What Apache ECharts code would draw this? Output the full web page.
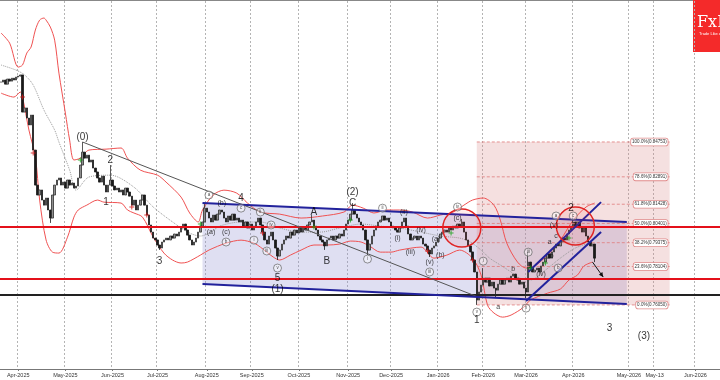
<!DOCTYPE html>
<html>
<head>
<meta charset="utf-8">
<title>USDCHF wave count</title>
<script src="https://cdn.jsdelivr.net/npm/echarts@6/dist/echarts.min.js"></script>
<style>
html, body { margin: 0; padding: 0; background: #fff; }
#chart { width: 720px; height: 380px; }
</style>
</head>
<body>
<div id="chart"></div>
<script>
// daily closes, one per trading day starting 2025-03-20
const closes = [
  0.8795, 0.8806, 0.8784, 0.8811, 0.8800, 0.8816, 0.8806, 0.8822, 0.8827, 0.8833,
  0.8635, 0.8657, 0.8603, 0.8566, 0.8619, 0.8432, 0.8245, 0.8192, 0.8219, 0.8165,
  0.8138, 0.8176, 0.8112, 0.8069, 0.8192, 0.8245, 0.8272, 0.8283, 0.8245, 0.8261,
  0.8229, 0.8272, 0.8245, 0.8256, 0.8229, 0.8240, 0.8283, 0.8352, 0.8421, 0.8389,
  0.8405, 0.8368, 0.8379, 0.8336, 0.8315, 0.8283, 0.8261, 0.8293, 0.8245, 0.8208,
  0.8245, 0.8272, 0.8240, 0.8219, 0.8229, 0.8208, 0.8219, 0.8192, 0.8229, 0.8208,
  0.8186, 0.8138, 0.8165, 0.8112, 0.8138, 0.8165, 0.8192, 0.8138, 0.8085, 0.8032,
  0.7994, 0.7962, 0.7952, 0.7925, 0.7909, 0.7941, 0.7952, 0.7962, 0.7952, 0.7973,
  0.7962, 0.7984, 0.7973, 0.7994, 0.8016, 0.8037, 0.8005, 0.7978, 0.7952, 0.7925,
  0.7941, 0.7962, 0.7994, 0.8026, 0.8048, 0.8122, 0.8101, 0.8069, 0.8048, 0.8085,
  0.8058, 0.8090, 0.8112, 0.8101, 0.8069, 0.8048, 0.8080, 0.8058, 0.8090, 0.8058,
  0.8069, 0.8048, 0.8058, 0.8026, 0.8048, 0.8016, 0.8037, 0.8005, 0.8026, 0.8048,
  0.8069, 0.8032, 0.7994, 0.7952, 0.7930, 0.7973, 0.7994, 0.7952, 0.7909, 0.7866,
  0.7898, 0.7930, 0.7952, 0.7973, 0.7962, 0.7994, 0.7978, 0.8005, 0.7989, 0.8016,
  0.7994, 0.8016, 0.8005, 0.8032, 0.8048, 0.8058, 0.8026, 0.8005, 0.7973, 0.7952,
  0.7941, 0.7920, 0.7952, 0.7962, 0.7973, 0.7952, 0.7973, 0.7962, 0.7984, 0.7973,
  0.8005, 0.8037, 0.8058, 0.8090, 0.8112, 0.8090, 0.8069, 0.8048, 0.8032, 0.8005,
  0.7952, 0.7898, 0.7930, 0.7973, 0.8005, 0.8026, 0.8048, 0.8058, 0.8080, 0.8058,
  0.8069, 0.8048, 0.8026, 0.8016, 0.8005, 0.7994, 0.8016, 0.8048, 0.8069, 0.8026,
  0.7984, 0.7952, 0.7962, 0.7973, 0.7952, 0.7973, 0.7962, 0.7930, 0.7920, 0.7898,
  0.7877, 0.7909, 0.7920, 0.7941, 0.7962, 0.7984, 0.7994, 0.8005, 0.7994, 0.8016,
  0.8005, 0.8026, 0.8016, 0.8037, 0.8026, 0.8048, 0.7994, 0.7952, 0.7920, 0.7888,
  0.7845, 0.7781, 0.7631, 0.7674, 0.7711, 0.7748, 0.7727, 0.7748, 0.7706, 0.7727,
  0.7695, 0.7684, 0.7716, 0.7738, 0.7716, 0.7738, 0.7748, 0.7727, 0.7759, 0.7770,
  0.7748, 0.7738, 0.7716, 0.7727, 0.7695, 0.7674, 0.7834, 0.7802, 0.7781, 0.7791,
  0.7802, 0.7781, 0.7813, 0.7834, 0.7855, 0.7877, 0.7855, 0.7888, 0.7909, 0.7930,
  0.7920, 0.7941, 0.7962, 0.7952, 0.7984, 0.8005, 0.8026, 0.8048, 0.8026, 0.8048,
  0.8016, 0.7994, 0.8016, 0.7973, 0.7941, 0.7920, 0.7930, 0.7855
];
// wick extremes that go beyond the bodies
const wicks = [
  ['2025-04-22', 0.8043], ['2025-05-13', 0.8475], ['2025-05-30', 0.8352],
  ['2025-07-02', 0.7899], ['2025-07-31', 0.8149], ['2025-09-17', 0.7845],
  ['2025-10-09', 0.8085], ['2025-10-17', 0.7899], ['2025-11-05', 0.8149],
  ['2025-11-14', 0.7872], ['2025-12-26', 0.7861], ['2026-01-19', 0.8064],
  ['2026-01-28', 0.7605], ['2026-02-02', 0.7802], ['2026-02-10', 0.7642],
  ['2026-03-02', 0.7642], ['2026-03-03', 0.7888], ['2026-04-01', 0.8069],
  ['2026-04-15', 0.7834]
];
const holidays = ['2025-12-25', '2026-01-01'];

// bollinger bands and the dotted average
const upperBand = [
  ['2025-03-20', 0.9057], ['2025-03-26', 0.9003], ['2025-04-01', 0.8875], ['2025-04-03', 0.8886],
  ['2025-04-07', 0.8950], ['2025-04-09', 0.8982], ['2025-04-11', 0.9073], ['2025-04-15', 0.9126],
  ['2025-04-17', 0.9137], ['2025-04-18', 0.9126], ['2025-04-22', 0.9089], ['2025-04-24', 0.9019],
  ['2025-04-28', 0.8843], ['2025-05-01', 0.8630], ['2025-05-05', 0.8485], ['2025-05-07', 0.8379],
  ['2025-05-12', 0.8389], ['2025-05-16', 0.8432], ['2025-05-28', 0.8437], ['2025-06-06', 0.8443],
  ['2025-06-11', 0.8389], ['2025-06-19', 0.8325], ['2025-07-01', 0.8298], ['2025-07-07', 0.8261],
  ['2025-07-16', 0.8181], ['2025-07-22', 0.8096], ['2025-07-28', 0.8048], ['2025-07-30', 0.8112],
  ['2025-08-06', 0.8192], ['2025-08-13', 0.8218], ['2025-08-21', 0.8202], ['2025-08-28', 0.8149],
  ['2025-09-05', 0.8101], ['2025-09-18', 0.8090], ['2025-10-02', 0.8069], ['2025-10-16', 0.8080],
  ['2025-10-30', 0.8101], ['2025-11-05', 0.8138], ['2025-11-12', 0.8122], ['2025-11-19', 0.8096],
  ['2025-11-27', 0.8112], ['2025-12-05', 0.8112], ['2025-12-15', 0.8101], ['2025-12-24', 0.8069],
  ['2026-01-05', 0.8085], ['2026-01-13', 0.8101], ['2026-01-20', 0.8138], ['2026-01-26', 0.8165],
  ['2026-02-02', 0.8176], ['2026-02-09', 0.8138], ['2026-02-12', 0.8058], ['2026-02-17', 0.7935],
  ['2026-02-24', 0.7834], ['2026-03-02', 0.7802], ['2026-03-06', 0.7813], ['2026-03-16', 0.7871],
  ['2026-03-24', 0.7951], ['2026-04-01', 0.8058], ['2026-04-09', 0.8128], ['2026-04-15', 0.8149]
];
const lowerBand = [
  ['2025-03-20', 0.8736], ['2025-03-28', 0.8715], ['2025-04-02', 0.8742], ['2025-04-03', 0.8715],
  ['2025-04-08', 0.8539], ['2025-04-11', 0.8395], ['2025-04-15', 0.8165], ['2025-04-18', 0.7952],
  ['2025-04-23', 0.7887], ['2025-04-28', 0.7882], ['2025-05-02', 0.7967], ['2025-05-07', 0.8074],
  ['2025-05-09', 0.8112], ['2025-05-15', 0.8138], ['2025-05-22', 0.8165], ['2025-05-27', 0.8154],
  ['2025-06-06', 0.8149], ['2025-06-11', 0.8112], ['2025-06-16', 0.8096], ['2025-06-20', 0.8074],
  ['2025-06-27', 0.7967], ['2025-07-04', 0.7882], ['2025-07-10', 0.7845], ['2025-07-16', 0.7829],
  ['2025-07-21', 0.7834], ['2025-07-29', 0.7871], ['2025-08-04', 0.7898], ['2025-08-14', 0.7935],
  ['2025-08-25', 0.7951], ['2025-09-02', 0.7935], ['2025-09-05', 0.7914], ['2025-09-15', 0.7861],
  ['2025-09-18', 0.7845], ['2025-09-25', 0.7871], ['2025-10-02', 0.7898], ['2025-10-10', 0.7925],
  ['2025-10-20', 0.7925], ['2025-10-28', 0.7930], ['2025-11-04', 0.7946], ['2025-11-11', 0.7941],
  ['2025-11-17', 0.7919], ['2025-11-24', 0.7887], ['2025-12-01', 0.7887], ['2025-12-05', 0.7898],
  ['2025-12-19', 0.7914], ['2025-12-30', 0.7855], ['2026-01-08', 0.7871], ['2026-01-16', 0.7898],
  ['2026-01-26', 0.7855], ['2026-01-30', 0.7765], ['2026-02-04', 0.7604], ['2026-02-09', 0.7562],
  ['2026-02-13', 0.7540], ['2026-02-19', 0.7551], ['2026-02-27', 0.7594], ['2026-03-04', 0.7631],
  ['2026-03-16', 0.7668], ['2026-03-24', 0.7690], ['2026-03-30', 0.7738], ['2026-04-03', 0.7765],
  ['2026-04-08', 0.7813], ['2026-04-14', 0.7834]
];
const midLine = [
  ['2025-03-20', 0.8886], ['2025-03-31', 0.8859], ['2025-04-04', 0.8833], ['2025-04-10', 0.8779],
  ['2025-04-17', 0.8646], ['2025-04-24', 0.8539], ['2025-04-28', 0.8475], ['2025-05-05', 0.8325],
  ['2025-05-08', 0.8218], ['2025-05-16', 0.8288], ['2025-05-30', 0.8298], ['2025-06-16', 0.8234],
  ['2025-06-27', 0.8128], ['2025-07-14', 0.8032], ['2025-07-22', 0.7989], ['2025-07-29', 0.7973],
  ['2025-08-05', 0.7994], ['2025-08-11', 0.8026], ['2025-08-25', 0.8048], ['2025-09-05', 0.8048],
  ['2025-09-18', 0.8016], ['2025-10-02', 0.7994], ['2025-10-15', 0.7994], ['2025-10-28', 0.8016],
  ['2025-11-11', 0.8037], ['2025-11-24', 0.8026], ['2025-12-05', 0.8016], ['2025-12-19', 0.7994],
  ['2026-01-05', 0.7973], ['2026-01-16', 0.7962], ['2026-01-23', 0.7941], ['2026-01-30', 0.7898],
  ['2026-02-05', 0.7855], ['2026-02-12', 0.7818], ['2026-02-19', 0.7781], ['2026-02-25', 0.7749],
  ['2026-03-04', 0.7738], ['2026-03-13', 0.7791], ['2026-03-24', 0.7855], ['2026-04-02', 0.7909],
  ['2026-04-13', 0.7936]
];

// axis ticks
const tickDates = ['2025-04-01', '2025-05-01', '2025-06-02', '2025-07-01', '2025-08-01', '2025-09-01',
  '2025-10-01', '2025-11-03', '2025-12-01', '2026-01-02', '2026-02-02', '2026-03-02', '2026-04-01',
  '2026-05-01', '2026-05-13', '2026-06-01'];
const tickLabels = ['Apr-2025', 'May-2025', 'Jun-2025', 'Jul-2025', 'Aug-2025', 'Sep-2025',
  'Oct-2025', 'Nov-2025', 'Dec-2025', 'Jan-2026', 'Feb-2026', 'Mar-2026', 'Apr-2026',
  'May-2026', 'May-13', 'Jun-2026'];

// drawing objects
const fibLevels = [100, 78.6, 61.8, 50, 38.2, 23.6, 0];
const fibHigh = 0.84753, fibLow = 0.76050;
const fibSpan = ['2026-01-28', '2026-05-20'];
const redLevels = [0.80215, 0.77438];
const blackLevel = 0.76584;
const channelTop = [['2025-07-30', 0.8149], ['2026-04-30', 0.8048]];
const channelBottom = [['2025-07-30', 0.7717], ['2026-04-30', 0.7610]];
const riseTop = [['2026-03-03', 0.7781], ['2026-04-18', 0.8154]];
const riseBottom = [['2026-03-02', 0.7626], ['2026-04-18', 0.7994]];
const trendLine = [['2025-05-13', 0.8475], ['2026-01-28', 0.7650]];
const circles = [['2026-01-19', 0.8016], ['2026-04-02', 0.8026]];
const arrow = [['2026-04-14', 0.7834], ['2026-04-19', 0.7754]];

// wave labels
const waveLabels = [
  ['2025-05-13', 0.8501, '(0)'], ['2025-05-30', 0.8379, '2'], ['2025-05-28', 0.8154, '1'],
  ['2025-07-02', 0.7839, '3'], ['2025-08-25', 0.8176, '4'], ['2025-11-05', 0.8208, '(2)'],
  ['2025-11-05', 0.8149, 'C'], ['2025-10-10', 0.8101, 'A'], ['2025-10-20', 0.7839, 'B'],
  ['2025-09-17', 0.7749, '5'], ['2025-09-17', 0.7690, '(1)'], ['2026-01-28', 0.7524, '1'],
  ['2026-03-31', 0.8122, '2'], ['2026-04-22', 0.7482, '3'], ['2026-05-08', 0.7439, '(3)']
];
const smallLabels = [
  ['2026-02-11', 0.7594, 'a'], ['2026-02-20', 0.7797, 'b'], ['2026-03-17', 0.7941, 'a'],
  ['2026-03-18', 0.7866, 'b'], ['2026-03-20', 0.7973, 'c'],
  ['2025-08-05', 0.7994, '(a)'], ['2025-08-14', 0.7994, '(c)'], ['2025-08-12', 0.8149, '(b)'],
  ['2025-12-04', 0.7962, '(i)'], ['2025-12-09', 0.8101, '(ii)'], ['2025-12-12', 0.7887, '(iii)'],
  ['2025-12-19', 0.8005, '(iv)'], ['2025-12-26', 0.7834, '(v)'], ['2025-12-31', 0.7957, '(a)'],
  ['2026-01-05', 0.7871, '(b)'], ['2026-01-15', 0.8069, '(c)'], ['2026-03-11', 0.7770, '(iv)'],
  ['2026-03-19', 0.8032, '(v)']
];
const circledLabels = [
  ['2025-08-04', 0.8192, 'a'], ['2025-08-14', 0.7941, 'b'], ['2025-08-25', 0.8122, 'c'],
  ['2025-09-02', 0.7951, 'i'], ['2025-09-05', 0.8101, 'ii'], ['2025-09-10', 0.7893, 'iii'],
  ['2025-09-12', 0.8032, 'iv'], ['2025-09-17', 0.7802, 'v'], ['2025-11-14', 0.7850, 'i'],
  ['2025-11-25', 0.8122, 'ii'], ['2025-12-26', 0.7781, 'iii'], ['2026-01-15', 0.8128, 'iv'],
  ['2026-01-28', 0.7567, 'v'], ['2026-02-02', 0.7839, 'i'], ['2026-03-02', 0.7588, 'ii'],
  ['2026-03-03', 0.7887, 'iii'], ['2026-03-20', 0.8080, 'a'], ['2026-03-23', 0.7802, 'b'],
  ['2026-04-01', 0.8080, 'c']
];
const sellMarks = [['2025-04-03', 0.8715], ['2025-04-10', 0.8416], ['2025-06-13', 0.8128],
  ['2025-06-24', 0.8085], ['2025-09-08', 0.7989], ['2025-12-24', 0.7893], ['2026-01-26', 0.7845]];
const buyMarks = [['2025-05-12', 0.8379], ['2025-07-29', 0.8037], ['2025-10-10', 0.8021],
  ['2025-11-04', 0.8058], ['2026-01-12', 0.7989], ['2026-03-04', 0.7802], ['2026-03-13', 0.7829],
  ['2026-03-30', 0.7962]];

// trading days for the bars, then calendar days for the empty future part
const dates = [];
const fmt = d => d.toISOString().slice(0, 10);
let day = new Date(Date.UTC(2025, 2, 20));
while (dates.length < closes.length) {
  const wd = day.getUTCDay(), s = fmt(day);
  if (wd !== 0 && wd !== 6 && holidays.indexOf(s) < 0) dates.push(s);
  day.setUTCDate(day.getUTCDate() + 1);
}
while (dates.length < 336) {
  dates.push(fmt(day));
  day.setUTCDate(day.getUTCDate() + 1);
}
const ix = d => dates.indexOf(d);

const ohlc = closes.map((c, i) => {
  const o = i ? closes[i - 1] : c;
  return [o, c, Math.min(o, c), Math.max(o, c)];
});
wicks.forEach(([d, v]) => {
  const r = ohlc[ix(d)];
  if (v < r[2]) r[2] = v;
  if (v > r[3]) r[3] = v;
});

const isTick = (i, v) => tickDates.indexOf(v) >= 0;
const asLine = arr => arr.map(([d, p]) => [ix(d), p]);
const asLabel = arr => arr.map(([d, p, t]) => [ix(d), p, t]);
const FONT = 'Liberation Sans';
const BLUE = '#22229c';

function backShapes(params, api) {
  const pt = (d, p) => api.coord([ix(d), p]);
  const a = pt(...channelTop[0]), b = pt(...channelTop[1]);
  const c = pt(...channelBottom[1]), e = pt(...channelBottom[0]);
  const r1 = pt(fibSpan[0], fibHigh), r2 = pt(fibSpan[1], fibLow);
  return {
    type: 'group',
    children: [
      { type: 'polygon', shape: { points: [a, b, c, e] }, style: { fill: 'rgba(150,150,212,0.3)' } },
      { type: 'rect', shape: { x: r1[0], y: r1[1], width: r2[0] - r1[0], height: r2[1] - r1[1] },
        style: { fill: 'rgba(215,130,130,0.25)' } }
    ]
  };
}

function frontShapes(params, api) {
  const pt = (d, p) => api.coord([ix(d), p]);
  const cs = params.coordSys;
  const kids = [];
  const seg = (p1, p2, style) => kids.push({ type: 'line',
    shape: { x1: p1[0], y1: p1[1], x2: p2[0], y2: p2[1] }, style });

  // fibonacci levels
  fibLevels.forEach(lv => {
    const price = fibLow + (fibHigh - fibLow) * lv / 100;
    const l = pt(fibSpan[0], price), r = pt(fibSpan[1], price);
    seg(l, r, { stroke: '#e07b7b', lineWidth: 0.8, lineDash: [3, 2] });
    kids.push({ type: 'text', x: r[0] - 2, y: l[1],
      style: { text: lv.toFixed(1) + '%(' + price.toFixed(5) + ')', fill: '#333',
        font: '4.5px "' + FONT + '"', align: 'right', verticalAlign: 'middle',
        backgroundColor: '#fff', borderColor: '#e08a8a', borderWidth: 0.8, borderRadius: 2,
        padding: [1, 1, 1, 1] } });
  });

  // horizontal levels across the whole chart
  redLevels.forEach(v => {
    const y = api.coord([0, v])[1];
    seg([cs.x, y], [cs.x + cs.width, y], { stroke: '#e4101a', lineWidth: 2 });
  });
  const yb = api.coord([0, blackLevel])[1];
  seg([cs.x, yb], [cs.x + cs.width, yb], { stroke: '#222', lineWidth: 2 });

  // trend line and channels
  seg(pt(...trendLine[0]), pt(...trendLine[1]), { stroke: '#555', lineWidth: 1 });
  seg(pt(...channelTop[0]), pt(...channelTop[1]), { stroke: BLUE, lineWidth: 2 });
  seg(pt(...channelBottom[0]), pt(...channelBottom[1]), { stroke: BLUE, lineWidth: 2 });
  seg(pt(...riseTop[0]), pt(...riseTop[1]), { stroke: BLUE, lineWidth: 2 });
  seg(pt(...riseBottom[0]), pt(...riseBottom[1]), { stroke: BLUE, lineWidth: 2 });

  // red circles
  circles.forEach(([d, p]) => {
    const c = pt(d, p);
    kids.push({ type: 'circle', shape: { cx: c[0], cy: c[1], r: 19 },
      style: { fill: 'rgba(255,70,70,0.10)', stroke: '#e02424', lineWidth: 1.5 } });
  });

  // arrow
  const a0 = pt(...arrow[0]), a1 = pt(...arrow[1]);
  seg(a0, a1, { stroke: '#111', lineWidth: 1 });
  const ang = Math.atan2(a1[1] - a0[1], a1[0] - a0[0]);
  const h = 5;
  kids.push({ type: 'polygon', shape: { points: [
    a1,
    [a1[0] - h * Math.cos(ang - 0.45), a1[1] - h * Math.sin(ang - 0.45)],
    [a1[0] - h * Math.cos(ang + 0.45), a1[1] - h * Math.sin(ang + 0.45)]
  ] }, style: { fill: '#111' } });

  return { type: 'group', children: kids };
}

const chart = echarts.init(document.getElementById('chart'));
chart.setOption({
  animation: false,
  backgroundColor: '#fff',
  grid: { left: 0, right: 0, top: 1, bottom: 11 },
  xAxis: {
    type: 'category',
    data: dates,
    boundaryGap: true,
    axisLine: { lineStyle: { color: '#777', width: 1 } },
    axisTick: { show: true, alignWithLabel: true, interval: isTick, length: 2, lineStyle: { color: '#777' } },
    axisLabel: { interval: isTick, formatter: v => tickLabels[tickDates.indexOf(v)],
      fontSize: 5.5, color: '#333', margin: 3, fontFamily: FONT },
    splitLine: { show: true, interval: isTick, lineStyle: { color: '#b4b4b4', type: [2, 2], width: 1 } }
  },
  yAxis: { type: 'value', min: 0.7263, max: 0.9228, show: false, splitLine: { show: false } },
  graphic: [
    { type: 'line', shape: { x1: 0, y1: 0.5, x2: 720, y2: 0.5 }, style: { stroke: '#888', lineWidth: 1 } },
    { type: 'rect', shape: { x: 693, y: 0, width: 27, height: 52 }, style: { fill: '#f42a2a' } },
    { type: 'text', x: 697, y: 15, style: { text: 'FxPro', fill: '#fff', font: '16px "DejaVu Serif"' } },
    { type: 'text', x: 699, y: 32, style: { text: 'Trade Like a Pro', fill: '#fff', font: '4px "' + FONT + '"' } }
  ],
  series: [
    { type: 'custom', z: 1, silent: true, clip: false, data: [[0, 0.8]], renderItem: backShapes },
    {
      type: 'line', data: asLine(upperBand), smooth: 0.3, symbol: 'none', z: 2, silent: true,
      lineStyle: { color: '#f05252', width: 1 }
    },
    {
      type: 'line', data: asLine(lowerBand), smooth: 0.3, symbol: 'none', z: 2, silent: true,
      lineStyle: { color: '#f05252', width: 1 }
    },
    {
      type: 'line', data: asLine(midLine), smooth: 0.3, symbol: 'none', z: 2, silent: true,
      lineStyle: { color: '#9a9a9a', width: 1, type: 'dotted' }
    },
    {
      type: 'candlestick', data: ohlc, barWidth: 1.8, z: 3,
      itemStyle: { color: '#8e8e8e', color0: '#1a1a1a', borderColor: '#303030', borderColor0: '#1a1a1a', borderWidth: 0.8 }
    },
    { type: 'custom', z: 4, silent: true, clip: false, data: [[0, 0.8]], renderItem: frontShapes },
    {
      type: 'scatter', data: sellMarks.map(([d, p]) => [ix(d), p]), z: 5, silent: true,
      symbol: 'path://M2,0L3,0L3,2L5,2L5,3L3,3L3,5L2,5L2,3L0,3L0,2L2,2Z', symbolSize: 5,
      itemStyle: { color: '#cc1111' }
    },
    {
      type: 'scatter', data: buyMarks.map(([d, p]) => [ix(d), p]), z: 5, silent: true,
      symbol: 'path://M2,0L3,0L3,2L5,2L5,3L3,3L3,5L2,5L2,3L0,3L0,2L2,2Z', symbolSize: 5,
      itemStyle: { color: '#11a011' }
    },
    {
      type: 'scatter', data: asLabel(circledLabels), z: 6, silent: true,
      symbol: 'circle', symbolSize: 8,
      itemStyle: { color: 'rgba(255,255,255,0.55)', borderColor: '#555', borderWidth: 0.8 },
      label: { show: true, position: 'inside', formatter: p => p.value[2], fontSize: 4.5, color: '#222', fontFamily: FONT }
    },
    {
      type: 'scatter', data: asLabel(smallLabels), z: 6, silent: true, symbolSize: 1,
      itemStyle: { color: 'rgba(0,0,0,0)' },
      label: { show: true, position: 'inside', formatter: p => p.value[2], fontSize: 7, color: '#111', fontFamily: FONT }
    },
    {
      type: 'scatter', data: asLabel(waveLabels), z: 6, silent: true, symbolSize: 1,
      itemStyle: { color: 'rgba(0,0,0,0)' },
      label: { show: true, position: 'inside', formatter: p => p.value[2], fontSize: 10, color: '#000', fontFamily: FONT }
    }
  ]
});
</script>
</body>
</html>
